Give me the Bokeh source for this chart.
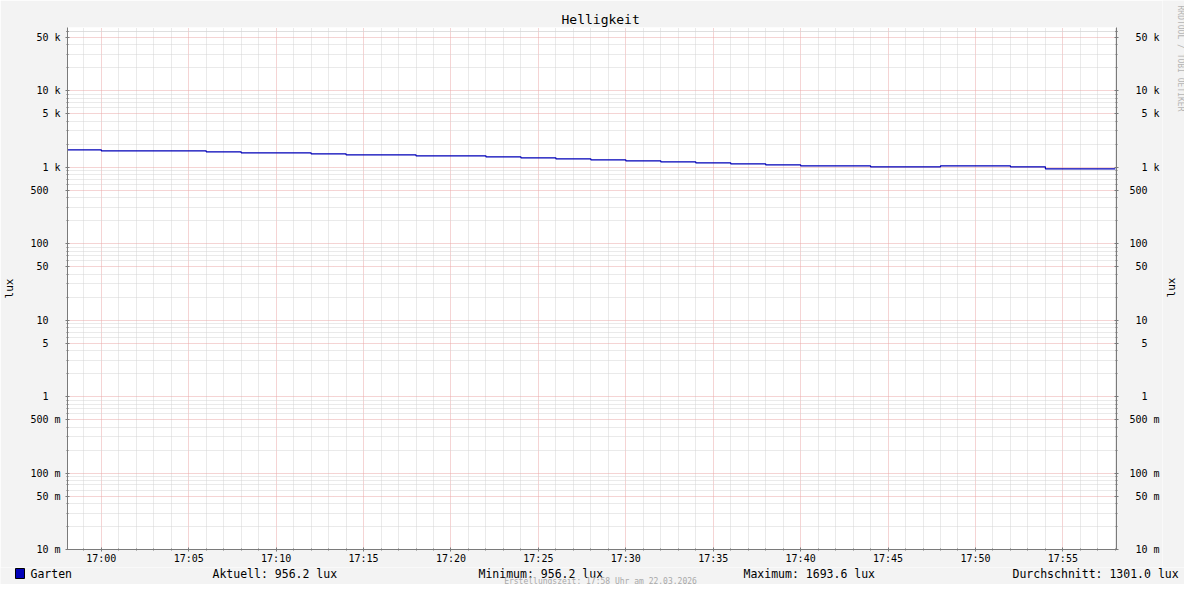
from datetime import datetime
from bokeh.plotting import figure
from bokeh.layouts import column, row
from bokeh.models import Range1d, FixedTicker, LogAxis, DatetimeTickFormatter
from bokeh.core.properties import value
from bokeh.embed import file_html
from bokeh.resources import INLINE

# ---------------- data ----------------
DAY = "2026-03-22"
times = ["16:58", "17:00", "17:02", "17:04", "17:06", "17:08", "17:10", "17:12",
         "17:14", "17:16", "17:18", "17:20", "17:22", "17:24", "17:26", "17:28",
         "17:30", "17:32", "17:34", "17:36", "17:38", "17:40", "17:42", "17:44",
         "17:46", "17:48", "17:50", "17:52", "17:54", "17:56", "17:58"]
lux = [1693.6, 1645, 1645, 1645, 1596, 1549, 1549, 1503,
       1458, 1458, 1415, 1415, 1373, 1332, 1292, 1254,
       1217, 1181, 1146, 1112, 1079, 1047, 1047, 1016,
       1016, 1047, 1047, 1016, 956.2, 956.2, 956.2]
series_name = "Garten"

x_start, x_end = "16:58:04", "17:58:04"
x_major = ["17:00", "17:05", "17:10", "17:15", "17:20", "17:25",
           "17:30", "17:35", "17:40", "17:45", "17:50", "17:55"]
x_major_labels = x_major

y_min, y_max = 0.01, 67600
y_major = [0.01, 0.05, 0.1, 0.5, 1, 5, 10, 50, 100, 500, 1000, 5000, 10000, 50000]
y_labels_left = ["10 m", "50 m", "100 m", "500 m", "1  ", "5  ", "10  ", "50  ",
                 "100  ", "500  ", "1 k", "5 k", "10 k", "50 k"]
y_labels_right = [" 10 m", " 50 m", "100 m", "500 m", "  1  ", "  5  ", " 10  ", " 50  ",
                  "100  ", "500  ", "  1 k", "  5 k", " 10 k", " 50 k"]

title_text = "Helligkeit"
y_label = "lux"
stats = ["Aktuell: 956.2 lux", "Minimum: 956.2 lux",
         "Maximum: 1693.6 lux", "Durchschnitt: 1301.0 lux"]
footer = "Erstellungszeit: 17:58 Uhr am 22.03.2026"
watermark = "RRDTOOL / TOBI OETIKER"

# ---------------- helpers ----------------
EPOCH = datetime(1970, 1, 1)
NB = "\u00a0"


def to_dt(t):
    fmt = "%Y-%m-%d %H:%M:%S" if t.count(":") == 2 else "%Y-%m-%d %H:%M"
    return datetime.strptime(DAY + " " + t, fmt)


def to_ms(t):
    return (to_dt(t) - EPOCH).total_seconds() * 1000.0


x_vals = [to_dt(t) for t in times]
maj_ms = [to_ms(t) for t in x_major]
t0 = to_ms("16:58")
min_ms = [t0 + i * 60000.0 for i in range(0, 61)]
min_ms = [m for m in min_ms if m not in maj_ms]
y_minor = [m * 10.0 ** k for k in range(-2, 5) for m in (2, 3, 4, 6, 7, 8, 9)] + [60000.0]

FONT = "DejaVu Sans Mono"
BG = "#f3f3f3"
MGRID = "#eaa8a8"
GRID = "#d4d4d4"
AXIS = "#7a7a7a"
LINE = "#0000b8"

W = 1184
MAIN_W = 1162
STRIP_W = W - MAIN_W
MAIN_H = 567
FOOT_H = 584 - MAIN_H

# ---------------- main figure ----------------
p = figure(width=MAIN_W, height=MAIN_H, output_backend="svg", toolbar_location=None,
           x_axis_type="datetime", y_axis_type="log",
           x_range=Range1d(to_dt(x_start), to_dt(x_end)),
           y_range=Range1d(y_min, y_max),
           min_border_left=67, min_border_right=MAIN_W - 1118,
           min_border_top=27, min_border_bottom=MAIN_H - 549)
p.frame_align = False
p.border_fill_color = BG
p.background_fill_color = "#ffffff"
p.outline_line_color = None

p.title.text = title_text
p.title.align = "left"
p.title.offset = 494
p.title.text_font = FONT
p.title.text_font_size = "13px"
p.title.text_font_style = "normal"
p.title.text_color = "#000000"
p.title.standoff = 2

xticker = FixedTicker(ticks=maj_ms, minor_ticks=min_ms)
yticker = FixedTicker(ticks=y_major, minor_ticks=y_minor)

for g, tk in ((p.xgrid[0], xticker), (p.ygrid[0], yticker)):
    g.ticker = tk
    g.grid_line_color = MGRID
    g.grid_line_dash = "1 1"
    g.grid_line_width = 1
    g.minor_grid_line_color = GRID
    g.minor_grid_line_dash = "1 1"
    g.minor_grid_line_width = 1

xa = p.xaxis[0]
xa.ticker = xticker
xa.formatter = DatetimeTickFormatter(minutes="%H:%M", hourmin="%H:%M", hours="%H:%M")
xa.major_label_overrides = {m: l for m, l in zip(maj_ms, x_major_labels)}
xa.major_label_standoff = 1

ra = LogAxis()
p.add_layout(ra, "right")
ya = p.yaxis[0]
ya.major_label_overrides = {v: l.replace(" ", NB) for v, l in zip(y_major, y_labels_left)}
ra.major_label_overrides = {v: l.replace(" ", NB) for v, l in zip(y_major, y_labels_right)}
ya.major_label_standoff = 5
ra.major_label_standoff = 11
ya.axis_label = y_label
ya.axis_label_text_font = FONT
ya.axis_label_text_font_size = "11px"
ya.axis_label_text_font_style = "normal"
ya.axis_label_text_color = "#000000"
ya.axis_label_standoff = 11

for ax in (xa, ya, ra):
    if ax is not xa:
        ax.ticker = yticker
    ax.axis_line_color = AXIS
    ax.major_tick_line_color = AXIS
    ax.minor_tick_line_color = AXIS
    ax.major_tick_in = 2
    ax.major_tick_out = 2
    ax.minor_tick_in = 1
    ax.minor_tick_out = 1
    ax.major_label_text_font = FONT
    ax.major_label_text_font_size = "10px"
    ax.major_label_text_color = "#000000"

p.step(x=x_vals, y=lux, mode="after", line_color=LINE, line_width=1.2)

# ---------------- right strip: axis title + watermark ----------------
s = figure(width=STRIP_W, height=MAIN_H, output_backend="svg", toolbar_location=None,
           x_range=Range1d(0, STRIP_W), y_range=Range1d(MAIN_H, 0),
           x_axis_location=None, y_axis_location=None,
           min_border=0, min_border_left=0, min_border_right=0,
           min_border_top=0, min_border_bottom=0)
s.frame_align = False
s.border_fill_color = BG
s.background_fill_color = BG
s.outline_line_color = None
s.xgrid.visible = False
s.ygrid.visible = False
s.text(x=[9], y=[287], text=[y_label], text_font=value(FONT), text_font_size="11px",
       text_color="#000000", text_align="center", text_baseline="middle",
       angle=1.5707963)
s.text(x=[18], y=[5], text=[watermark], text_font=value(FONT), text_font_size="8px",
       text_color="#b5b5b5", text_align="left", text_baseline="middle",
       angle=-1.5707963)

# ---------------- legend / footer strip ----------------
f = figure(width=W, height=FOOT_H, output_backend="svg", toolbar_location=None,
           x_range=Range1d(0, W), y_range=Range1d(FOOT_H, 0),
           x_axis_location=None, y_axis_location=None,
           min_border=0, min_border_left=0, min_border_right=0,
           min_border_top=0, min_border_bottom=0)
f.frame_align = False
f.border_fill_color = BG
f.background_fill_color = BG
f.outline_line_color = None
f.xgrid.visible = False
f.ygrid.visible = False

f.quad(left=[15], right=[24], top=[1], bottom=[11], fill_color=LINE,
       line_color="#000000", line_width=1)
f.text(x=[30, 212, 478, 743, 1012], y=[6] * 5, text=[series_name] + stats,
       text_font=value(FONT), text_font_size="11.5px", text_color="#000000",
       text_align="left", text_baseline="middle")
f.text(x=[600], y=[13.5], text=[footer], text_font=value(FONT), text_font_size="8px",
       text_color="#a9a9a9", text_align="center", text_baseline="middle")

layout = column(row(p, s, spacing=0), f, spacing=0)
open("out.html", "w").write(file_html(layout, INLINE))
